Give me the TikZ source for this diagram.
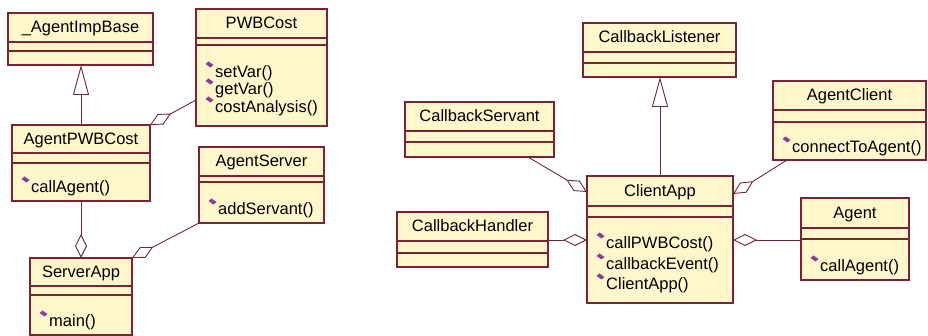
\documentclass[tikz,border=0pt]{standalone}
\usepackage{fontspec}
\setmainfont{Liberation Sans}
\usetikzlibrary{arrows.meta,calc}
\definecolor{clsfill}{HTML}{FFF6CC}
\definecolor{clsborder}{HTML}{7B2233}
\definecolor{connc}{HTML}{6E2A36}
\definecolor{opc}{HTML}{8B3D94}
\tikzset{
  clsbox/.style={draw=clsborder, fill=clsfill, line width=1.1pt, inner sep=0pt, outer sep=0pt},
  clsline/.style={draw=clsborder, line width=1.1pt},
  clstitle/.style={inner sep=0pt, font=\fontsize{16.5}{19}\selectfont, text height=11.5pt, text depth=3pt},
  clsop/.style={inner sep=0pt, font=\fontsize{16.5}{19}\selectfont, text height=11.5pt, text depth=3pt},
  opicon/.style={fill=opc},
  conn/.style={draw=connc, line width=0.9pt},
  agg/.style={conn, {Diamond[length=24pt,width=12pt,fill=white]}-},
  inh/.style={conn, -{Triangle[length=30pt,width=16pt,fill=white]}},
}
\newcommand\umlclass[8]{%
  \node[clsbox, minimum width={#4-#2}, minimum height={#5-#3}, anchor=north west] (#1) at (#2,#3) {};
  \draw[clsline] (#2,#6) -- (#4,#6);
  \draw[clsline] (#2,#7) -- (#4,#7);
  \node[clstitle] (#1-t) at ({(#2+#4)/2},{(#3+#6)/2+1}) {#8};
}
\newcommand\umlop[4]{%
  \node[clsop, anchor=west] (#1) at ([shift={(19,#3)}]#2.north west) {#4};
  \fill[opicon] ([shift={(14,#3-7)}]#2.north west) ++(-4.5,-2) -- ++(3,-2.5) -- ++(5,3.5) -- ++(-3,2.5) -- cycle;
}
\begin{document}
\begin{tikzpicture}[x=1pt,y=-1pt]
\useasboundingbox[fill=white] (0,0) rectangle (928,336);
% left diagram
\umlclass{AgentImpBase}{8}{13}{153}{65}{42}{51}{\_AgentImpBase}
\umlclass{PWBCost}{196}{9}{327}{126}{38}{45}{PWBCost}
\umlop{op-setvar}{PWBCost}{64}{setVar()}
\umlop{op-getvar}{PWBCost}{81}{getVar()}
\umlop{op-cost}{PWBCost}{99}{costAnalysis()}
\umlclass{AgentPWBCost}{12}{125}{150}{201}{153}{163}{AgentPWBCost}
\umlop{op-callagent1}{AgentPWBCost}{63}{callAgent()}
\umlclass{AgentServer}{199}{147}{324}{223}{176}{182}{AgentServer}
\umlop{op-addservant}{AgentServer}{63}{addServant()}
\umlclass{ServerApp}{30}{258}{132}{335}{286}{295}{ServerApp}
\umlop{op-main}{ServerApp}{64}{main()}
% right diagram
\umlclass{CallbackListener}{583}{23}{736}{77}{52}{63}{CallbackListener}
\umlclass{CallbackServant}{405}{102}{554}{157}{131}{142}{CallbackServant}
\umlclass{ClientApp}{587}{176}{733}{303}{206}{217}{ClientApp}
\umlop{op-callpwb}{ClientApp}{68}{callPWBCost()}
\umlop{op-cbevent}{ClientApp}{89}{callbackEvent()}
\umlop{op-clientapp}{ClientApp}{109}{ClientApp()}
\umlclass{CallbackHandler}{397}{212}{548}{267}{241}{253}{CallbackHandler}
\umlclass{AgentClient}{773}{81}{926}{160}{110}{122}{AgentClient}
\umlop{op-connect}{AgentClient}{67}{connectToAgent()}
\umlclass{Agent}{801}{198}{909}{280}{228}{239}{Agent}
\umlop{op-callagent2}{Agent}{69}{callAgent()}
% connectors left
\draw[inh] (AgentPWBCost.north) -- (AgentPWBCost.north |- AgentImpBase.south);
\draw[agg] (AgentPWBCost.north east) -- ([shift={(0,91)}]PWBCost.north west);
\draw[agg] (ServerApp.north) -- (ServerApp.north |- AgentPWBCost.south);
\draw[agg] (ServerApp.north east) -- (AgentServer.south west);
% connectors right
\draw[inh] (ClientApp.north) -- (ClientApp.north |- CallbackListener.south);
\draw[agg] ([shift={(0,16)}]ClientApp.north west) -- ([shift={(-26,0)}]CallbackServant.south east);
\draw[agg] ([shift={(0,64)}]ClientApp.north west) -- ([shift={(0,64)}]ClientApp.north west -| CallbackHandler.east);
\draw[agg] ([shift={(0,18)}]ClientApp.north east) -- ([shift={(14,0)}]AgentClient.south west);
\draw[agg] ([shift={(0,64)}]ClientApp.north east) -- ([shift={(0,64)}]ClientApp.north east -| Agent.west);
\end{tikzpicture}
\end{document}
